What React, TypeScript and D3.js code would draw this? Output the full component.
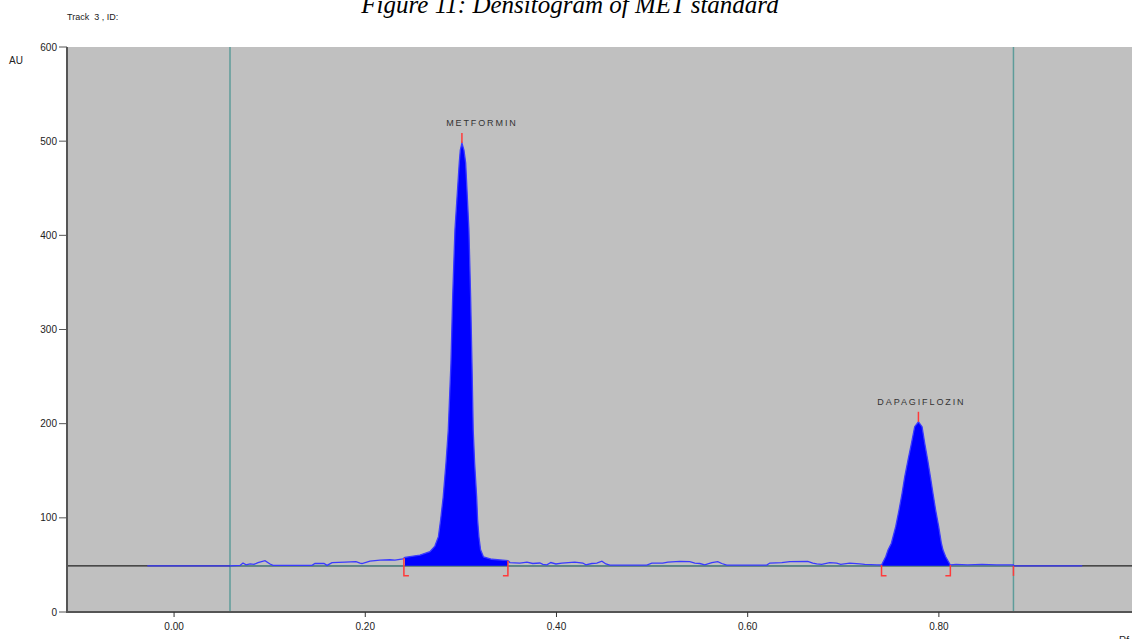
import * as d3 from 'd3'

// densitogram trace (Rf, AU)
const traceRf = [
  -0.028, 0.0585, 0.069, 0.0721, 0.0753, 0.0795, 0.0836, 0.0878, 0.0951, 0.1004, 0.1035,
  0.1443, 0.1474, 0.1568, 0.16, 0.1652, 0.1788, 0.1903, 0.1945, 0.1966, 0.2049, 0.2154,
  0.2258, 0.231, 0.2394,
  0.2415, 0.2572, 0.2676, 0.2728, 0.2765, 0.2788, 0.2815, 0.2844, 0.2868, 0.2896, 0.2914,
  0.2938, 0.2983, 0.2994, 0.3011, 0.3032, 0.305, 0.3084, 0.3102, 0.3116, 0.3129, 0.3144,
  0.3165, 0.3175, 0.3189, 0.3206, 0.3237, 0.3325, 0.3492,
  0.3513, 0.3617, 0.3691, 0.3753, 0.3826, 0.3858, 0.39, 0.3941, 0.3994, 0.4056, 0.4192,
  0.4276, 0.4307, 0.437, 0.4422, 0.4475, 0.4517, 0.4558, 0.4945, 0.4997, 0.5112, 0.5165,
  0.529, 0.5395, 0.5447, 0.5499, 0.5551, 0.5625, 0.5687, 0.5729, 0.5781, 0.62, 0.6231,
  0.6357, 0.644, 0.6628, 0.6681, 0.6722, 0.6775, 0.6858, 0.6931, 0.6973, 0.7067, 0.7172,
  0.7224, 0.735,
  0.74, 0.7444, 0.7468, 0.7503, 0.7548, 0.7583, 0.7615, 0.7643, 0.7677, 0.7713, 0.7747,
  0.7786, 0.7824, 0.7852, 0.7883, 0.7911, 0.7938, 0.7966, 0.7998, 0.8026, 0.8043, 0.8071,
  0.812,
  0.818, 0.83, 0.845, 0.86, 0.8779, 0.878, 0.95,
]
const traceAu = [
  49, 49, 49.5, 52, 50, 51, 50.5, 52.5, 54.5, 51, 49.5,
  49.5, 51.5, 51.5, 49.5, 52.5, 53, 53.5, 52, 51.5, 54, 55,
  55.5, 55, 56.5,
  58, 60.5, 64, 70, 80, 97.7, 122, 158, 193, 264, 334.5,
  406, 477, 490.6, 498, 490.6, 477, 406, 334.5, 264, 193, 158,
  122, 97.7, 79.6, 66, 58.5, 56, 54.5,
  52.5, 52, 53, 51.5, 52, 50.5, 50, 52.5, 51, 52, 53,
  52, 50, 51.5, 52, 54, 51, 49.8, 49.8, 51.8, 52, 53,
  53.8, 53.5, 52, 51.5, 50, 52.5, 53.5, 51.5, 49.8, 49.8, 52,
  52.5, 53.5, 53.8, 52, 51, 50.5, 52.5, 52, 50.5, 52, 51,
  50.5, 50,
  49.9, 58.7, 65.8, 73, 90.6, 108.3, 126, 143.7, 161.4, 179, 196.8,
  202, 196.8, 179, 161.4, 143.7, 126, 108.3, 90.6, 73, 65.8, 58.7,
  49.9,
  50.5, 50, 50.5, 50, 50, 49, 49,
]

const peakNames = ['METFORMIN', 'DAPAGIFLOZIN']
const peakRf = [0.3011, 0.7786]
const peakAu = [498, 202]
const peakStart = [0.2404, 0.74]
const peakEnd = [0.3492, 0.812]

const baselineAu = 49
const windowRf = [0.0585, 0.878]
const xTicks = [0, 0.2, 0.4, 0.6, 0.8]
const yTicks = [0, 100, 200, 300, 400, 500, 600]

const W = 1132
const H = 639
const left = 67
const top = 47
const bottom = 612

const labelDx = [20, 3]

export default function App() {
  const x = d3.scaleLinear().domain([-0.112, 1.002]).range([left, W])
  const y = d3.scaleLinear().domain([0, 600]).range([bottom, top])

  const pts = traceRf.map((r, i) => ({ r, a: traceAu[i] }))
  const line = d3.line<{ r: number; a: number }>()
    .x(d => x(d.r))
    .y(d => y(d.a))
  const area = d3.area<{ r: number; a: number }>()
    .x(d => x(d.r))
    .y0(y(baselineAu))
    .y1(d => y(d.a))

  const auAt = (r: number) => {
    const i = d3.bisector((d: { r: number }) => d.r).left(pts, r)
    if (i <= 0) return pts[0].a
    if (i >= pts.length) return pts[pts.length - 1].a
    const p0 = pts[i - 1], p1 = pts[i]
    return p0.a + (p1.a - p0.a) * (r - p0.r) / (p1.r - p0.r)
  }

  const font = '"Liberation Sans", Arial, sans-serif'
  const teal = '#5e9c9a'
  const red = '#ff3a3a'

  return (
    <svg width={W} height={H} style={{ position: 'absolute', left: 0, top: 0, background: '#fff' }}
      fontFamily={font}>
      <text x={570} y={13} textAnchor="middle" fontFamily='"Liberation Serif", "Times New Roman", serif'
        fontStyle="italic" fontSize={25} fill="#000">Figure 11: Densitogram of MET standard</text>
      <text x={67} y={20} fontSize={9} fill="#222" style={{ whiteSpace: 'pre' }}>Track  3 , ID:</text>
      <text x={9} y={64} fontSize={10} fill="#222">AU</text>

      <rect x={left} y={top} width={W - left} height={bottom - top} fill="#c0c0c0" />

      {/* integration window */}
      {windowRf.map((r, i) => (
        <line key={i} x1={x(r)} x2={x(r)} y1={top} y2={bottom} stroke={teal} strokeWidth={1.5} />
      ))}

      <line x1={left} x2={W} y1={y(baselineAu)} y2={y(baselineAu)} stroke="#222" strokeWidth={1.2} />
      <line x1={x(windowRf[0])} x2={x(windowRf[1])} y1={y(baselineAu)} y2={y(baselineAu)}
        stroke={teal} strokeWidth={1.2} />

      {peakNames.map((n, i) => (
        <path key={n} d={area(pts.filter(p => p.r >= peakStart[i] && p.r <= peakEnd[i])) || ''}
          fill="#0000ff" />
      ))}
      <path d={line(pts) || ''} fill="none" stroke="#3a3aff" strokeWidth={1.3} />

      {/* peak brackets */}
      {peakNames.map((n, i) => (
        <g key={n} stroke={red} strokeWidth={1.5} fill="none">
          <path d={`M${x(peakStart[i])},${y(auAt(peakStart[i]))}V${y(baselineAu) + 10}h5`} />
          <path d={`M${x(peakEnd[i])},${y(auAt(peakEnd[i]))}V${y(baselineAu) + 10}h-5`} />
          <line x1={x(peakRf[i])} x2={x(peakRf[i])} y1={y(peakAu[i]) - 10} y2={y(peakAu[i])} />
        </g>
      ))}
      <line x1={x(windowRf[1])} x2={x(windowRf[1])} y1={y(baselineAu)} y2={y(baselineAu) + 10}
        stroke={red} strokeWidth={1.5} />

      {peakNames.map((n, i) => (
        <text key={n} x={x(peakRf[i]) + labelDx[i]} y={y(peakAu[i]) - 17} textAnchor="middle"
          fontSize={9} letterSpacing={1.9} fill="#333">{n}</text>
      ))}

      {/* axes */}
      <line x1={left} x2={left} y1={top} y2={bottom + 1} stroke="#555" strokeWidth={2} />
      <line x1={left} x2={W} y1={bottom} y2={bottom} stroke="#555" strokeWidth={2} />
      {yTicks.map(t => (
        <g key={t}>
          <line x1={left - 8} x2={left} y1={y(t)} y2={y(t)} stroke="#555" strokeWidth={1} />
          <text x={left - 10} y={y(t) + 3.5} textAnchor="end" fontSize={10} fill="#222">{t}</text>
        </g>
      ))}
      {xTicks.map(t => (
        <g key={t}>
          <line x1={x(t)} x2={x(t)} y1={bottom} y2={bottom + 5} stroke="#333" strokeWidth={1} />
          <text x={x(t)} y={bottom + 18} textAnchor="middle" fontSize={10} fill="#222">{d3.format('.2f')(t)}</text>
        </g>
      ))}
      <text x={1119} y={644} fontSize={10} fill="#222">Rf</text>
    </svg>
  )
}
